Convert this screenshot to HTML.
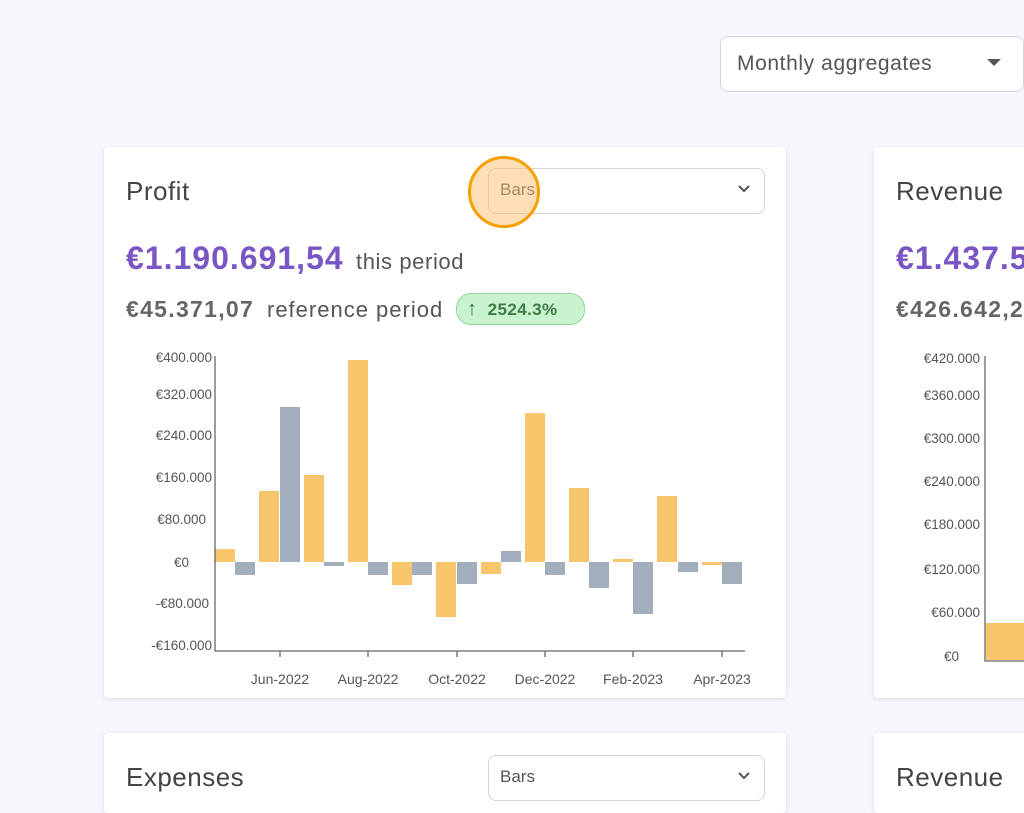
<!DOCTYPE html>
<html><head><meta charset="utf-8"><style>
body{margin:0;width:1024px;height:788px;background:#f8f6fc;font-family:"Liberation Sans",sans-serif;overflow:hidden;position:relative}
.card{position:absolute;background:#fff;border-radius:4px;box-shadow:0 1px 4px rgba(0,0,0,.12)}
.t{position:absolute;white-space:nowrap}
</style></head><body>
<div class="card" style="left:720px;top:36px;width:302px;height:54px;border:1px solid #d6d3dc;box-shadow:none;border-radius:8px"></div>
<div class="t" style="left:737px;top:52px;font-size:21px;color:#555;letter-spacing:0.6px">Monthly aggregates</div>
<div class="t" style="left:987px;top:59px;width:0;height:0;border-left:7px solid transparent;border-right:7px solid transparent;border-top:7px solid #555"></div>

<div class="card" style="left:104px;top:147px;width:682px;height:551px"></div>
<div class="card" style="left:874px;top:147px;width:200px;height:551px"></div>
<div class="card" style="left:104px;top:733px;width:682px;height:80px"></div>
<div class="card" style="left:874px;top:733px;width:200px;height:80px"></div>

<div class="t" style="left:126px;top:176px;font-size:26px;color:#444;letter-spacing:0.5px">Profit</div>
<div class="t" style="left:896px;top:176px;font-size:26px;color:#444;letter-spacing:0.5px">Revenue</div>
<div class="t" style="left:126px;top:762px;font-size:26px;color:#444;letter-spacing:0.5px">Expenses</div>
<div class="t" style="left:896px;top:762px;font-size:26px;color:#444;letter-spacing:0.5px">Revenue</div>

<div class="card" style="left:488px;top:168px;width:275px;height:44px;border:1px solid #d6d3dc;box-shadow:none;border-radius:8px"></div>
<div class="t" style="left:500px;top:180px;font-size:17px;color:#555">Bars</div>
<svg class="t" style="left:737px;top:184px" width="14" height="10"><path d="M2 2l5 5 5-5" stroke="#555" stroke-width="2" fill="none"/></svg>
<div class="card" style="left:488px;top:755px;width:275px;height:44px;border:1px solid #d6d3dc;box-shadow:none;border-radius:8px"></div>
<div class="t" style="left:500px;top:767px;font-size:17px;color:#555">Bars</div>
<svg class="t" style="left:737px;top:771px" width="14" height="10"><path d="M2 2l5 5 5-5" stroke="#555" stroke-width="2" fill="none"/></svg>
<div class="t" style="left:468px;top:156px;width:66px;height:66px;border-radius:50%;border:3px solid #f5a000;background:rgba(252,190,110,.5)"></div>

<div class="t" style="left:126px;top:240px;font-size:32px;font-weight:bold;color:#7a55c4;letter-spacing:1px">€1.190.691,54</div>
<div class="t" style="left:356px;top:249px;font-size:22px;color:#555;letter-spacing:0.6px">this period</div>
<div class="t" style="left:896px;top:240px;font-size:32px;font-weight:bold;color:#7a55c4;letter-spacing:1px">€1.437.5</div>
<div class="t" style="left:126px;top:296px;font-size:23px;font-weight:bold;color:#666;letter-spacing:1.3px">€45.371,07</div>
<div class="t" style="left:267px;top:297px;font-size:22px;color:#555;letter-spacing:1px">reference period</div>
<div class="t" style="left:896px;top:296px;font-size:23px;font-weight:bold;color:#666;letter-spacing:1.3px">€426.642,2</div>
<div class="t" style="left:456px;top:293px;width:127px;height:30px;border-radius:15px;background:#c9f2cf;border:1px solid #8fd79c"></div>
<div class="t" style="left:467px;top:298px;font-size:17px;font-weight:bold;color:#3d7d45;letter-spacing:0.4px"><span style="font-size:20px;font-weight:normal">↑</span>&nbsp; 2524.3%</div>

<svg class="t" style="left:0;top:0" width="1024" height="788" font-family="Liberation Sans" font-size="13.5" fill="#555">
<g text-anchor="end">
<text x="212" y="362">€400.000</text><text x="212" y="399">€320.000</text><text x="212" y="440">€240.000</text><text x="212" y="482">€160.000</text><text x="206" y="524">€80.000</text><text x="189" y="567">€0</text><text x="209" y="608">-€80.000</text><text x="212" y="650">-€160.000</text>
<text x="980" y="363">€420.000</text><text x="980" y="400">€360.000</text><text x="980" y="443">€300.000</text><text x="980" y="486">€240.000</text><text x="980" y="529">€180.000</text><text x="980" y="574">€120.000</text><text x="980" y="617">€60.000</text><text x="959" y="661">€0</text>
</g>
<g text-anchor="middle" font-size="14">
<text x="280" y="684">Jun-2022</text><text x="368" y="684">Aug-2022</text><text x="457" y="684">Oct-2022</text><text x="545" y="684">Dec-2022</text><text x="633" y="684">Feb-2023</text><text x="722" y="684">Apr-2023</text>
</g>
<g fill="#f6c56c">
<rect x="215" y="549" width="20" height="13"/><rect x="259" y="491" width="20" height="71"/><rect x="304" y="475" width="20" height="87"/><rect x="348" y="360" width="20" height="202"/><rect x="392" y="562" width="20" height="23"/><rect x="436" y="562" width="20" height="55"/><rect x="481" y="562" width="20" height="12"/><rect x="525" y="413" width="20" height="149"/><rect x="569" y="488" width="20" height="74"/><rect x="613" y="559" width="20" height="3"/><rect x="657" y="496" width="20" height="66"/><rect x="702" y="562" width="20" height="3"/>
<rect x="986" y="623" width="40" height="37"/>
</g>
<g fill="#a3aebd">
<rect x="235" y="562" width="20" height="13"/><rect x="280" y="407" width="20" height="155"/><rect x="324" y="562" width="20" height="4"/><rect x="368" y="562" width="20" height="13"/><rect x="412" y="562" width="20" height="13"/><rect x="457" y="562" width="20" height="22"/><rect x="501" y="551" width="20" height="11"/><rect x="545" y="562" width="20" height="13"/><rect x="589" y="562" width="20" height="26"/><rect x="633" y="562" width="20" height="52"/><rect x="678" y="562" width="20" height="10"/><rect x="722" y="562" width="20" height="22"/>
</g>
<g stroke="#666" stroke-width="1.3" fill="none">
<path d="M215 356V651H745"/>
<path d="M280 651v6M368 651v6M457 651v6M545 651v6M633 651v6M722 651v6"/>
<path d="M985 356V661H1024"/>
</g>
</svg>
</body></html>
